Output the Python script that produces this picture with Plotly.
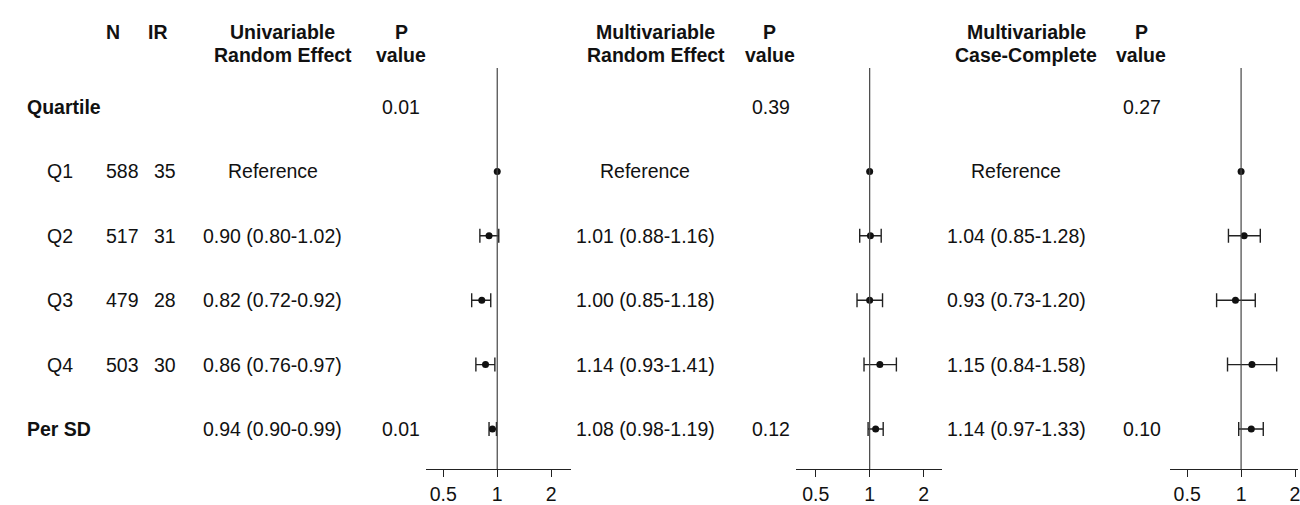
import plotly.graph_objects as go

W, H = 1300, 505

rows = ["Quartile", "Q1", "Q2", "Q3", "Q4", "Per SD"]
row_bold = [True, False, False, False, False, True]
N = ["", "588", "517", "479", "503", ""]
IR = ["", "35", "31", "28", "30", ""]

uni_est = [None, 1.00, 0.90, 0.82, 0.86, 0.94]
uni_lo = [None, 1.00, 0.80, 0.72, 0.76, 0.90]
uni_hi = [None, 1.00, 1.02, 0.92, 0.97, 0.99]
uni_p = ["0.01", "", "", "", "", "0.01"]

mre_est = [None, 1.00, 1.01, 1.00, 1.14, 1.08]
mre_lo = [None, 1.00, 0.88, 0.85, 0.93, 0.98]
mre_hi = [None, 1.00, 1.16, 1.18, 1.41, 1.19]
mre_p = ["0.39", "", "", "", "", "0.12"]

cc_est = [None, 1.00, 1.04, 0.93, 1.15, 1.14]
cc_lo = [None, 1.00, 0.85, 0.73, 0.84, 0.97]
cc_hi = [None, 1.00, 1.28, 1.20, 1.58, 1.33]
cc_p = ["0.27", "", "", "", "", "0.10"]

tick_vals = [0.5, 1, 2]
tick_text = ["0.5", "1", "2"]

headers = [
    ("N", "", 113),
    ("IR", "", 158),
    ("Univariable", "Random Effect", 283),
    ("P", "value", 402),
    ("Multivariable", "Random Effect", 657),
    ("P", "value", 771),
    ("Multivariable", "Case-Complete", 1028),
    ("P", "value", 1143),
]

FONT = "Liberation Sans, Arial, sans-serif"
FS = 19.5
HFS = 19.5
TXT = "#111111"

ROW0, ROWSTEP = 107.0, 64.4
def ypix_to_row(p):
    return (p - ROW0) / ROWSTEP

PX_PER_DEC = 54.0 / 0.30103

panels = [
    dict(est=uni_est, lo=uni_lo, hi=uni_hi, p=uni_p, left=427, one=498, right=572,
         txt_x=273, p_x=402),
    dict(est=mre_est, lo=mre_lo, hi=mre_hi, p=mre_p, left=797, one=871, right=943,
         txt_x=646, p_x=772),
    dict(est=cc_est, lo=cc_lo, hi=cc_hi, p=cc_p, left=1172, one=1243, right=1300,
         txt_x=1018, p_x=1144),
]

fig = go.Figure()
annotations = []
shapes = []
ylist = list(range(len(rows)))

axis_pos = (H - 469) / H
for k, pnl in enumerate(panels):
    xa = "x" if k == 0 else f"x{k+1}"
    xs, ys, ep, em = [], [], [], []
    rx, ry = [], []
    for i in ylist:
        e = pnl["est"][i]
        if e is None:
            continue
        if pnl["lo"][i] == pnl["hi"][i]:
            rx.append(e)
            ry.append(i)
        else:
            xs.append(e)
            ys.append(i)
            ep.append(pnl["hi"][i] - e)
            em.append(e - pnl["lo"][i])
    fig.add_trace(go.Scatter(
        x=xs, y=ys, mode="markers", xaxis=xa, yaxis="y",
        marker=dict(color="#111111", size=7, symbol="circle"),
        error_x=dict(type="data", symmetric=False, array=ep, arrayminus=em,
                     color="#222222", thickness=1.4, width=7),
        showlegend=False, hoverinfo="skip"))
    fig.add_trace(go.Scatter(
        x=rx, y=ry, mode="markers", xaxis=xa, yaxis="y",
        marker=dict(color="#111111", size=7, symbol="circle"),
        showlegend=False, hoverinfo="skip"))

    lo_dec = -(pnl["one"] - pnl["left"]) / PX_PER_DEC
    hi_dec = (pnl["right"] - pnl["one"]) / PX_PER_DEC
    axis_def = dict(
        type="log", domain=[pnl["left"] / W, min(1.0, pnl["right"] / W)],
        range=[lo_dec, hi_dec], anchor="free", position=axis_pos,
        tickvals=tick_vals, ticktext=tick_text, ticks="outside", ticklen=7,
        tickwidth=1.2, tickcolor="#222222", showline=True, linewidth=1.3,
        linecolor="#222222", showgrid=False, zeroline=False, fixedrange=True,
        ticklabeloverflow="allow",
        tickfont=dict(family=FONT, size=FS, color=TXT),
    )
    key = "xaxis" if k == 0 else f"xaxis{k+1}"
    fig.update_layout(**{key: axis_def})

    shapes.append(dict(type="line", xref=xa, yref="paper", x0=1, x1=1,
                       y0=axis_pos, y1=(H - 68) / H,
                       line=dict(color="#444444", width=1.2)))

    for i in ylist:
        e = pnl["est"][i]
        if e is not None:
            if pnl["lo"][i] == pnl["hi"][i]:
                s = "Reference"
            else:
                s = f"{e:.2f} ({pnl['lo'][i]:.2f}-{pnl['hi'][i]:.2f})"
            annotations.append(dict(x=pnl["txt_x"] / W, y=i, xref="paper", yref="y",
                                    text=s, showarrow=False, xanchor="center",
                                    font=dict(family=FONT, size=FS, color=TXT)))
        if pnl["p"][i]:
            annotations.append(dict(x=pnl["p_x"] / W, y=i, xref="paper", yref="y",
                                    text=pnl["p"][i], showarrow=False, xanchor="center",
                                    font=dict(family=FONT, size=FS, color=TXT)))

for i in ylist:
    if row_bold[i]:
        annotations.append(dict(x=25 / W, y=i, xref="paper", yref="y",
                                text=f"<b>{rows[i]}</b>", showarrow=False, xanchor="left",
                                font=dict(family=FONT, size=FS, color=TXT)))
    else:
        annotations.append(dict(x=45 / W, y=i, xref="paper", yref="y",
                                text=rows[i], showarrow=False, xanchor="left",
                                font=dict(family=FONT, size=FS, color=TXT)))
    if N[i]:
        annotations.append(dict(x=123 / W, y=i, xref="paper", yref="y", text=N[i],
                                showarrow=False, xanchor="center",
                                font=dict(family=FONT, size=FS, color=TXT)))
    if IR[i]:
        annotations.append(dict(x=165 / W, y=i, xref="paper", yref="y", text=IR[i],
                                showarrow=False, xanchor="center",
                                font=dict(family=FONT, size=FS, color=TXT)))

for l1, l2, cx in headers:
    annotations.append(dict(x=cx / W, y=ypix_to_row(32), xref="paper", yref="y",
                            text=f"<b>{l1}</b>", showarrow=False, xanchor="center",
                            font=dict(family=FONT, size=HFS, color=TXT)))
    if l2:
        annotations.append(dict(x=cx / W, y=ypix_to_row(55), xref="paper", yref="y",
                                text=f"<b>{l2}</b>", showarrow=False, xanchor="center",
                                font=dict(family=FONT, size=HFS, color=TXT)))

fig.update_layout(
    width=W, height=H, margin=dict(l=0, r=0, t=0, b=0),
    paper_bgcolor="white", plot_bgcolor="white",
    yaxis=dict(range=[ypix_to_row(H), ypix_to_row(0)], visible=False, fixedrange=True,
               domain=[0, 1]),
    annotations=annotations, shapes=shapes, showlegend=False,
)

fig.write_html("out.html")
